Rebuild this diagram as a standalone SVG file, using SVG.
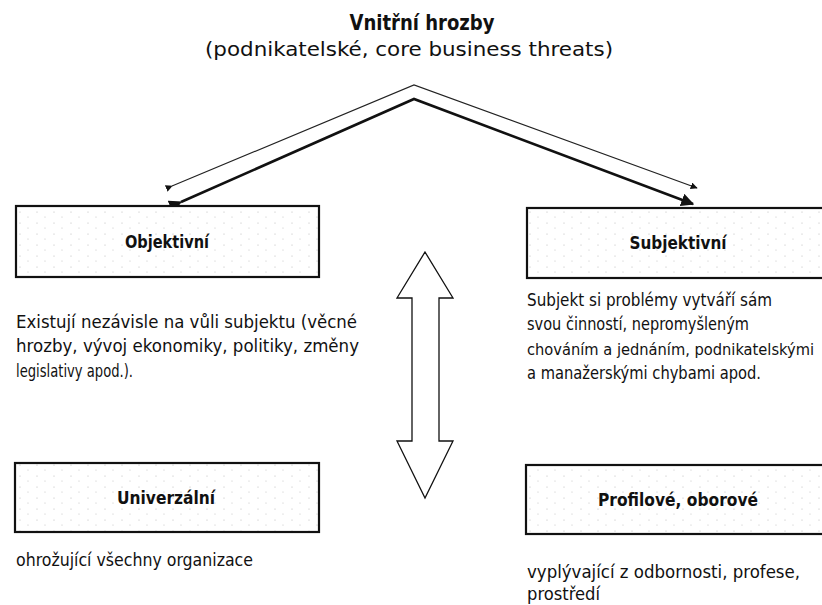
<svg xmlns="http://www.w3.org/2000/svg" width="822" height="605" viewBox="0 0 822 605">
<style>
text{font-family:"Liberation Sans Narrow","DejaVu Sans Condensed","Liberation Sans",sans-serif;fill:#111}
.t{font-size:21px;font-weight:bold}
.s{font-size:20px}
.b{font-size:18px;font-weight:bold}
.p{font-size:17.5px}
.box{fill:url(#dots);stroke:#111;stroke-width:2.2}
.thin{fill:none;stroke:#222;stroke-width:1.2}
.thick{fill:none;stroke:#111;stroke-width:2.6}
</style>
<defs>
<pattern id="dots" width="17" height="11" patternUnits="userSpaceOnUse">
<rect width="17" height="11" fill="#fff"/>
<circle cx="3" cy="3" r="0.6" fill="#bbb"/>
<circle cx="11" cy="8" r="0.6" fill="#c4c4c4"/>
</pattern>
<marker id="ah" viewBox="0 0 10 10" refX="9" refY="5" markerWidth="7" markerHeight="7" markerUnits="userSpaceOnUse" orient="auto">
<path d="M0,0 L10,5 L0,10 z" fill="#111"/>
</marker>
<marker id="ahb" viewBox="0 0 10 10" refX="9" refY="5" markerWidth="5" markerHeight="5" orient="auto">
<path d="M0,0 L10,5 L0,10 z" fill="#111"/>
</marker>
</defs>
<g id="title">
<text class="t" x="422" y="30" text-anchor="middle" textLength="145" lengthAdjust="spacingAndGlyphs">Vnitřní hrozby</text>
<text class="s" x="409" y="56" text-anchor="middle" textLength="408" lengthAdjust="spacingAndGlyphs">(podnikatelské, core business threats)</text>
</g>
<g id="connectors">
<polyline class="thin" points="172,186 414,85 697,188" marker-start="url(#ah)" marker-end="url(#ah)"/>
<polyline class="thick" points="181,202 414,99 693,204" marker-start="url(#ahb)" marker-end="url(#ahb)"/>
<polygon points="425,252 453,298 439,298 439,441 453,441 425,498 397,441 412,441 412,298 397,298" fill="#fff" stroke="#111" stroke-width="1.3"/>
</g>
<g id="objektivni">
<rect class="box" x="16" y="206" width="303" height="71"/>
<text class="b" x="167" y="248" text-anchor="middle" textLength="84" lengthAdjust="spacingAndGlyphs">Objektivní</text>
</g>
<g id="subjektivni">
<rect class="box" x="527" y="208" width="300" height="70"/>
<text class="b" x="678" y="249" text-anchor="middle" textLength="97" lengthAdjust="spacingAndGlyphs">Subjektivní</text>
</g>
<g id="univerzalni">
<rect class="box" x="15" y="463" width="304" height="69"/>
<text class="b" x="166" y="504" text-anchor="middle" textLength="98" lengthAdjust="spacingAndGlyphs">Univerzální</text>
</g>
<g id="profilove">
<rect class="box" x="526" y="465" width="301" height="69"/>
<text class="b" x="678" y="506" text-anchor="middle" textLength="160" lengthAdjust="spacingAndGlyphs">Profilové, oborové</text>
</g>
<g id="objektivni-desc">
<text class="p" x="16" y="328" textLength="341" lengthAdjust="spacingAndGlyphs">Existují nezávisle na vůli subjektu (věcné</text>
<text class="p" x="16" y="352" textLength="343" lengthAdjust="spacingAndGlyphs">hrozby, vývoj ekonomiky, politiky, změny</text>
<text class="p" x="16" y="377" textLength="117" lengthAdjust="spacingAndGlyphs">legislativy apod.).</text>
</g>
<g id="subjektivni-desc">
<text class="p" x="527" y="306" textLength="245" lengthAdjust="spacingAndGlyphs">Subjekt si problémy vytváří sám</text>
<text class="p" x="527" y="330" textLength="222" lengthAdjust="spacingAndGlyphs">svou činností, nepromyšleným</text>
<text class="p" x="527" y="355" font-size="16" style="font-size:16px" textLength="287" lengthAdjust="spacingAndGlyphs">chováním a jednáním, podnikatelskými</text>
<text class="p" x="527" y="379" textLength="234" lengthAdjust="spacingAndGlyphs">a manažerskými chybami apod.</text>
</g>
<g id="univerzalni-desc">
<text class="p" x="16" y="566" textLength="237" lengthAdjust="spacingAndGlyphs">ohrožující všechny organizace</text>
</g>
<g id="profilove-desc">
<text class="p" x="527" y="578" textLength="273" lengthAdjust="spacingAndGlyphs">vyplývající z odbornosti, profese,</text>
<text class="p" x="527" y="600" textLength="73" lengthAdjust="spacingAndGlyphs">prostředí</text>
</g>
</svg>
